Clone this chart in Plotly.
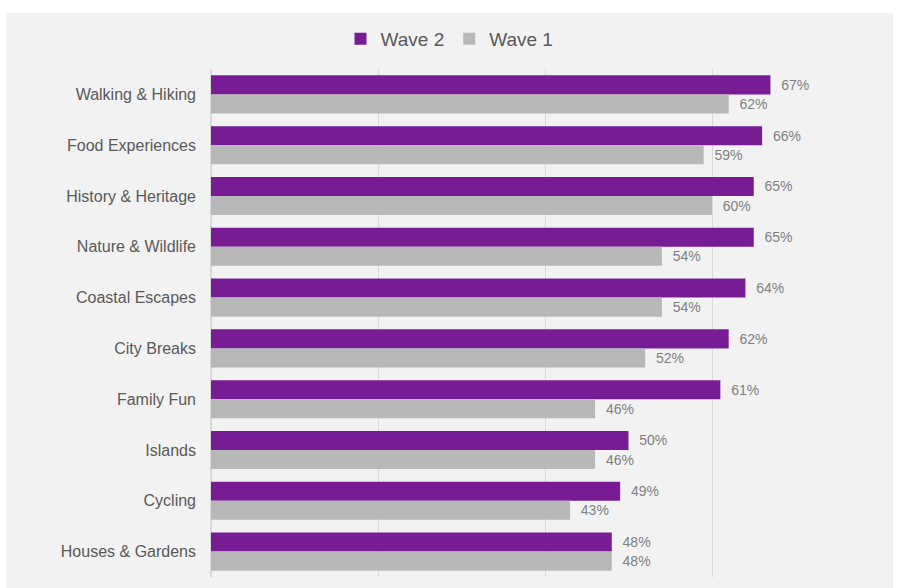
import plotly.graph_objects as go

categories = ["Walking & Hiking", "Food Experiences", "History & Heritage", "Nature & Wildlife",
              "Coastal Escapes", "City Breaks", "Family Fun", "Islands", "Cycling", "Houses & Gardens"]
wave2 = [67, 66, 65, 65, 64, 62, 61, 50, 49, 48]
wave1 = [62, 59, 60, 54, 54, 52, 46, 46, 43, 48]

W, H = 899, 588
ml, mr, mt, mb = 211, 20, 69, 11

fig = go.Figure()
fig.add_trace(go.Bar(y=categories, x=wave2, name="Wave 2", orientation="h",
                     marker=dict(color="#781C96", line=dict(width=0)),
                     text=[f"  {v}%" for v in wave2], textposition="outside",
                     textfont=dict(color="#7F7F7F", size=14), cliponaxis=False))
fig.add_trace(go.Bar(y=categories, x=wave1, name="Wave 1", orientation="h",
                     marker=dict(color="#B8B8B8", line=dict(width=0)),
                     text=[f"  {v}%" for v in wave1], textposition="outside",
                     textfont=dict(color="#7F7F7F", size=14), cliponaxis=False))

pw = W - ml - mr
ph = H - mt - mb
x0 = (6 - ml) / pw
x1 = (893 - ml) / pw
y1 = (H - 13 - mb) / ph
y0 = (H - 588 - mb) / ph - 0.01
fig.add_shape(type="rect", xref="paper", yref="paper", x0=x0, x1=x1, y0=y0, y1=y1,
              fillcolor="#F2F2F2", line=dict(width=0), layer="below")

fig.update_layout(
    width=W, height=H,
    margin=dict(l=ml, r=mr, t=mt, b=mb),
    paper_bgcolor="white", plot_bgcolor="rgba(0,0,0,0)",
    barmode="group", bargap=0.25, bargroupgap=0,
    font=dict(family="Liberation Sans, Arial, sans-serif", color="#595959"),
    legend=dict(orientation="h", x=0.5, xref="container", xanchor="center",
                y=(H - 39) / H, yref="container", yanchor="middle",
                font=dict(size=19, color="#595959"),
                bgcolor="rgba(0,0,0,0)", itemwidth=30, tracegroupgap=0),
    showlegend=True,
)
fig.update_xaxes(range=[0, 80], dtick=20, showticklabels=False, showgrid=True,
                 gridcolor="#D9D9D9", gridwidth=1, zeroline=True, zerolinecolor="#D9D9D9",
                 showline=False, fixedrange=True)
fig.update_yaxes(autorange="reversed", showgrid=False, ticks="", ticklen=0,
                 ticklabelstandoff=14,
                 tickfont=dict(size=16, color="#595959"), showline=False)

fig.write_html("out.html")
